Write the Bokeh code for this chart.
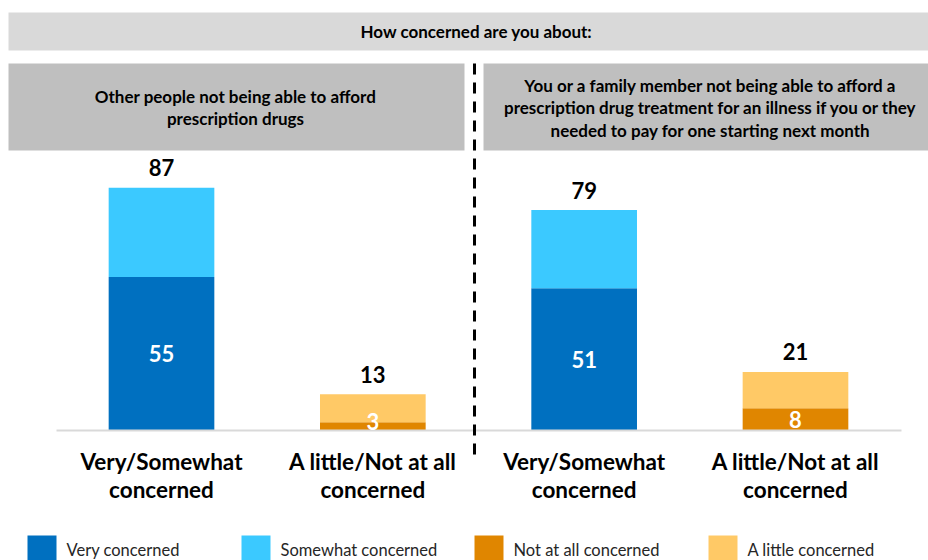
from bokeh.plotting import figure
from bokeh.models import Range1d, ColumnDataSource
from bokeh.core.properties import value
from bokeh.embed import file_html
from bokeh.resources import INLINE

# ---------------- data ----------------
title_text = "How concerned are you about:"
panel_titles = [
    "Other people not being able to afford\nprescription drugs",
    "You or a family member not being able to afford a\nprescription drug treatment for an illness if you or they\nneeded to pay for one starting next month",
]
categories = ["Very/Somewhat\nconcerned", "A little/Not at all\nconcerned"]
very_concerned = [55, 51]          # per panel
somewhat_concerned = [32, 28]
not_at_all_concerned = [3, 8]
a_little_concerned = [10, 13]
legend_labels = ["Very concerned", "Somewhat concerned", "Not at all concerned", "A little concerned"]

# ---------------- styles ----------------
C_VERY = "#0070C0"
C_SOME = "#3BC9FF"
C_NOT = "#E08600"
C_LITTLE = "#FFC966"
FONT = value("Lato")

W, H = 928, 560
# pixel layout helpers (figure pixels)
CAT0_PX, STEP_PX = 161.0, 211.33   # centre of first category, spacing between categories
BASE_PX, PX_PER_PCT = 430.0, 2.79  # baseline position and vertical scale

def xd(px):
    return (px - CAT0_PX) / STEP_PX

def yd(py):
    return (BASE_PX - py) / PX_PER_PCT

p = figure(width=W, height=H, output_backend="svg", toolbar_location=None,
           x_range=Range1d(xd(0), xd(W)), y_range=Range1d(yd(H), yd(0)),
           min_border=0, min_border_left=0, min_border_right=0,
           min_border_top=0, min_border_bottom=0)
p.axis.visible = False
p.grid.visible = False
p.outline_line_color = None
p.background_fill_color = "white"

# ---------------- headers ----------------
p.quad(left=[xd(8)], right=[xd(W)], top=[yd(12)], bottom=[yd(50)],
       fill_color="#D9D9D9", line_color=None)
p.text(x=[xd(476)], y=[yd(31)], text=[title_text], text_font=FONT, text_font_style="bold",
       text_font_size="17px", text_align="center", text_baseline="middle", text_color="black")

panel_left_px = [8, 483]
panel_right_px = [464, 928]
p.quad(left=[xd(v) for v in panel_left_px], right=[xd(v) for v in panel_right_px],
       top=[yd(63)] * 2, bottom=[yd(150)] * 2, fill_color="#BFBFBF", line_color=None)
for i, t in enumerate(panel_titles):
    lines = t.split("\n")
    n = len(lines)
    cx = [235, 710][i]
    lh = 22.5
    cy = 107
    ys = [yd(cy + (k - (n - 1) / 2) * lh) for k in range(n)]
    p.text(x=[xd(cx)] * n, y=ys, text=lines, text_font=FONT, text_font_style="bold",
           text_font_size="17px", text_align="center", text_baseline="middle", text_color="black")

# ---------------- bars ----------------
xs_c = [2 * i for i in range(len(panel_titles))]
xs_n = [2 * i + 1 for i in range(len(panel_titles))]
bw = 0.5

src_c = ColumnDataSource(dict(x=xs_c, very=very_concerned, some=somewhat_concerned))
src_n = ColumnDataSource(dict(x=xs_n, notall=not_at_all_concerned, little=a_little_concerned))
p.vbar_stack(["very", "some"], x="x", width=bw, source=src_c, color=[C_VERY, C_SOME], line_color=None)
p.vbar_stack(["notall", "little"], x="x", width=bw, source=src_n, color=[C_NOT, C_LITTLE], line_color=None)

# baseline
p.segment(x0=[xd(56)], x1=[xd(901)], y0=[0], y1=[0], line_color="#D9D9D9", line_width=2)

# totals (placed ~20px above the bar top)
totals_x = xs_c + xs_n
totals = [a + b for a, b in zip(very_concerned, somewhat_concerned)] + \
         [a + b for a, b in zip(not_at_all_concerned, a_little_concerned)]
gap = 20 / PX_PER_PCT
p.text(x=totals_x, y=[v + gap for v in totals], text=[str(v) for v in totals], text_font=FONT,
       text_font_style="bold", text_font_size="22px", text_align="center", text_baseline="middle",
       text_color="black")

# inner labels (centred in segment, but kept at least ~9px above the baseline)
inner_vals = very_concerned + not_at_all_concerned
min_mid = 9 / PX_PER_PCT
p.text(x=totals_x, y=[max(v / 2, min_mid) for v in inner_vals], text=[str(v) for v in inner_vals],
       text_font=FONT, text_font_style="bold", text_font_size="22px", text_align="center",
       text_baseline="middle", text_color="white")

# category labels
cat_x, cat_l1, cat_l2 = [], [], []
for i in range(len(panel_titles)):
    for j, c in enumerate(categories):
        a, b = c.split("\n")
        cat_x.append(2 * i + j)
        cat_l1.append(a)
        cat_l2.append(b)
p.text(x=cat_x, y=[yd(461)] * len(cat_x), text=cat_l1, text_font=FONT, text_font_style="bold",
       text_font_size="22.5px", text_align="center", text_baseline="middle", text_color="black")
p.text(x=cat_x, y=[yd(489)] * len(cat_x), text=cat_l2, text_font=FONT, text_font_style="bold",
       text_font_size="22.5px", text_align="center", text_baseline="middle", text_color="black")

# dashed divider
p.segment(x0=[xd(474)], x1=[xd(474)], y0=[yd(63)], y1=[yd(456)], line_color="black",
          line_width=3, line_dash="11 8")

# ---------------- legend ----------------
leg_sq_px = [27, 241, 474, 708]
leg_colors = [C_VERY, C_SOME, C_NOT, C_LITTLE]
p.quad(left=[xd(v) for v in leg_sq_px], right=[xd(v + 29) for v in leg_sq_px],
       top=[yd(535)] * 4, bottom=[yd(560)] * 4, fill_color=leg_colors, line_color=None)
p.text(x=[xd(v + 39) for v in leg_sq_px], y=[yd(549)] * 4, text=legend_labels, text_font=FONT,
       text_font_size="16.5px", text_align="left", text_baseline="middle", text_color="#262626")

open("out.html", "w").write(file_html(p, INLINE))
